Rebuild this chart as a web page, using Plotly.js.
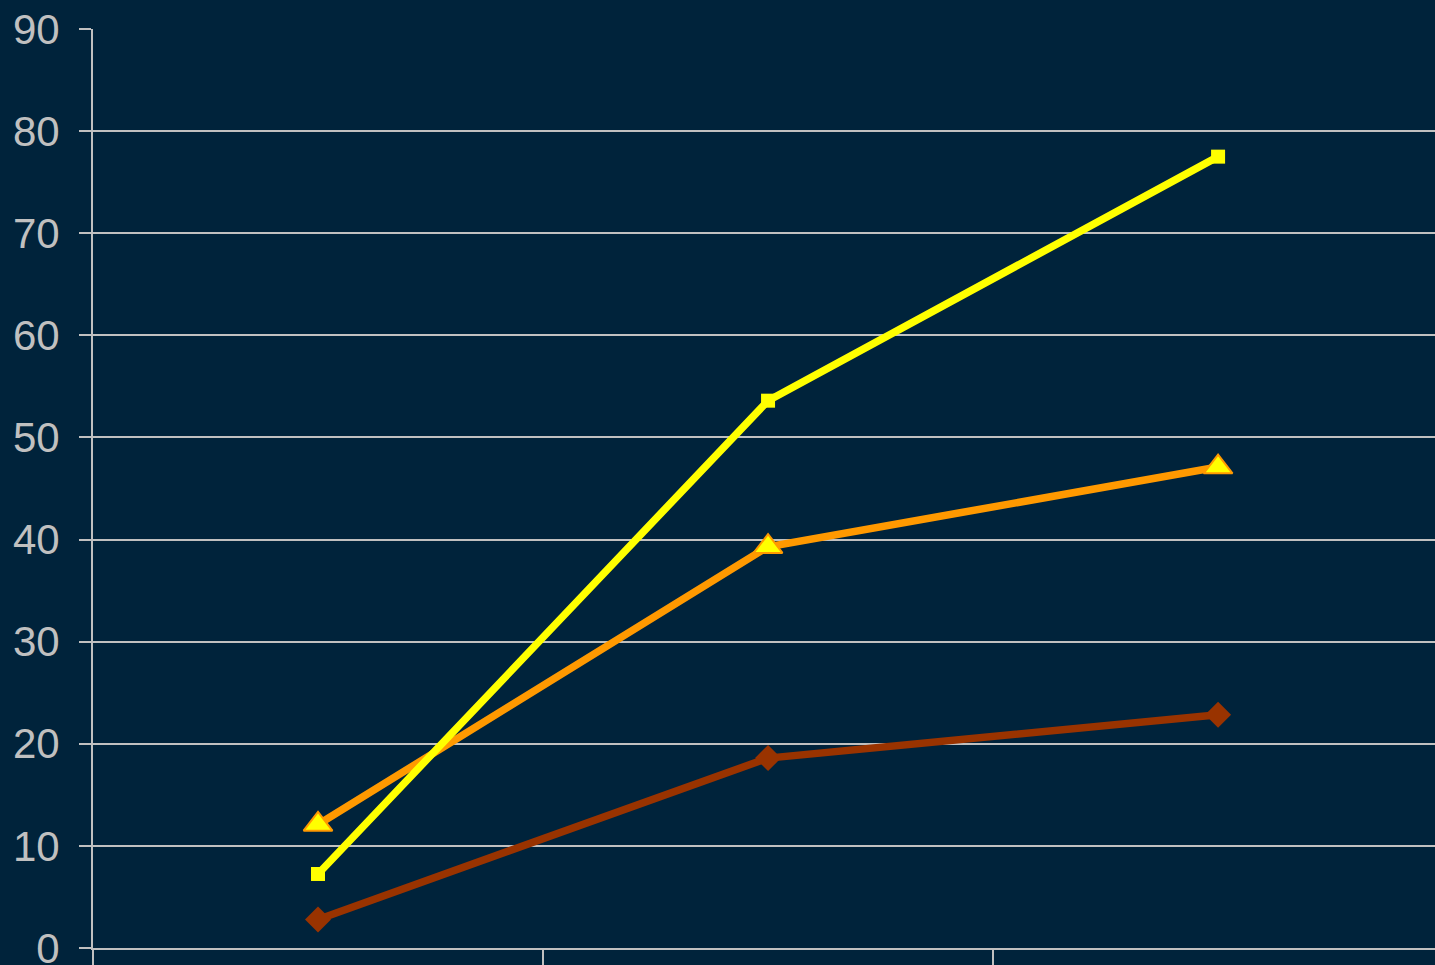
<!DOCTYPE html>
<html>
<head>
<meta charset="utf-8">
<script src="https://cdn.plot.ly/plotly-3.0.1.min.js"></script>
<style>
html,body{margin:0;padding:0;background:#00233b;overflow:hidden;}
#chart{width:1435px;height:965px;}
</style>
</head>
<body>
<div id="chart"></div>
<script>
var categories = ["1", "2", "3"];
var seriesYellow = [7.25, 53.6, 77.5];
var seriesOrange = [12.1, 39.3, 47.1];
var seriesBrown = [2.8, 18.6, 22.85];
var yTickValues = [0, 10, 20, 30, 40, 50, 60, 70, 80, 90];

var traces = [
  {
    x: categories, y: seriesBrown, type: "scatter", mode: "lines+markers",
    line: {color: "#993300", width: 7.5},
    marker: {symbol: "diamond", size: 20, color: "#993300", line: {width: 0}},
    hoverinfo: "skip"
  },
  {
    x: categories, y: seriesOrange, type: "scatter", mode: "lines+markers",
    line: {color: "#FF9900", width: 7.5},
    marker: {symbol: "triangle-up", size: 25, color: "#FFFF00", line: {color: "#FF9900", width: 2}},
    hoverinfo: "skip"
  },
  {
    x: categories, y: seriesYellow, type: "scatter", mode: "lines+markers",
    line: {color: "#FFFF00", width: 7.5},
    marker: {symbol: "square", size: 14, color: "#FFFF00", line: {width: 0}},
    hoverinfo: "skip"
  }
];

var layout = {
  width: 1435, height: 965,
  margin: {l: 93, r: 0, t: 29, b: 17, pad: 0},
  paper_bgcolor: "#00233b",
  plot_bgcolor: "#00233b",
  showlegend: false,
  font: {family: "Liberation Sans, Arial, sans-serif", color: "#c0c0c0", size: 42},
  xaxis: {
    type: "category",
    categoryarray: categories,
    range: [-0.5, 2.482],
    showticklabels: false,
    showgrid: false,
    zeroline: false,
    showline: true,
    linecolor: "#c0c0c0",
    linewidth: 2,
    ticks: "outside",
    tickson: "boundaries",
    ticklen: 20,
    tickwidth: 2,
    tickcolor: "#c0c0c0",
    fixedrange: true
  },
  yaxis: {
    range: [0, 90],
    tickvals: yTickValues,
    ticktext: yTickValues.map(String),
    showgrid: true,
    gridcolor: "#c0c0c0",
    gridwidth: 2,
    zeroline: false,
    showline: true,
    linecolor: "#c0c0c0",
    linewidth: 2,
    ticks: "outside",
    ticklen: 12,
    tickwidth: 2,
    tickcolor: "#c0c0c0",
    ticklabelstandoff: 11,
    ticklabeloverflow: "allow",
    tickfont: {family: "Liberation Sans, Arial, sans-serif", size: 42, color: "#c0c0c0"},
    fixedrange: true
  }
};

Plotly.newPlot("chart", traces, layout, {displayModeBar: false, staticPlot: true});
</script>
</body>
</html>
